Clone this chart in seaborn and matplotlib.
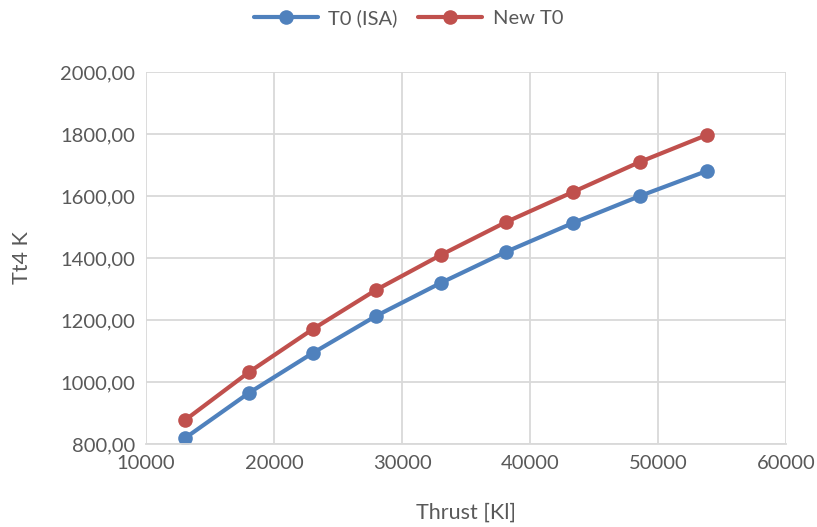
import matplotlib
matplotlib.use("Agg")
import matplotlib.pyplot as plt
from matplotlib.ticker import FuncFormatter, MultipleLocator
import seaborn as sns
import pandas as pd

thrust = [13050, 18050, 23050, 27970, 33050, 38130, 43360, 48590, 53830]
tt4_isa = [819, 965, 1094, 1213, 1320, 1420, 1513, 1600, 1681]
tt4_new = [877, 1032, 1171, 1297, 1410, 1516, 1613, 1710, 1797]
series_names = ["T0 (ISA)", "New T0"]

df = pd.concat([
    pd.DataFrame({"Thrust": thrust, "Tt4": tt4_isa, "Series": series_names[0]}),
    pd.DataFrame({"Thrust": thrust, "Tt4": tt4_new, "Series": series_names[1]}),
])

sns.set_theme(style="white")
plt.rcParams["font.family"] = ["Lato", "DejaVu Sans"]

text_color = "#595959"
grid_color = "#D9D9D9"
palette = {series_names[0]: "#4F81BD", series_names[1]: "#C0504D"}

fig = plt.figure(figsize=(8.17, 5.27), dpi=100)
ax = fig.add_axes([146 / 817, 83 / 527, 640 / 817, 372 / 527])

sns.lineplot(data=df, x="Thrust", y="Tt4", hue="Series", palette=palette,
             marker="o", markersize=10.5, markeredgewidth=0, linewidth=3,
             ax=ax, legend=True)

ax.set_xlim(10000, 60000)
ax.set_ylim(800, 2000)
ax.xaxis.set_major_locator(MultipleLocator(10000))
ax.yaxis.set_major_locator(MultipleLocator(200))
ax.yaxis.set_major_formatter(FuncFormatter(lambda v, p: f"{v:.2f}".replace(".", ",")))

ax.grid(True, color=grid_color, linewidth=1.3)
ax.set_axisbelow(True)
for side in ["top", "right", "left"]:
    ax.spines[side].set_visible(False)
ax.spines["bottom"].set_color(grid_color)
ax.spines["bottom"].set_linewidth(1.3)

ax.tick_params(axis="both", colors=text_color, labelsize=14.5, length=0, pad=8)
ax.set_xlabel("Thrust [Kl]", color=text_color, fontsize=15.5, labelpad=22)
ax.set_ylabel("Tt4 K", color=text_color, fontsize=15.5, labelpad=20)

handles, labels = ax.get_legend_handles_labels()
ax.get_legend().remove()
fig.legend(handles, labels, loc="center", bbox_to_anchor=(0.5, 1 - 18 / 527),
           ncol=2, frameon=False, fontsize=14.5, labelcolor=text_color,
           handlelength=3.2, columnspacing=1.0, handletextpad=0.5)

fig.savefig("out.png", dpi=100)
